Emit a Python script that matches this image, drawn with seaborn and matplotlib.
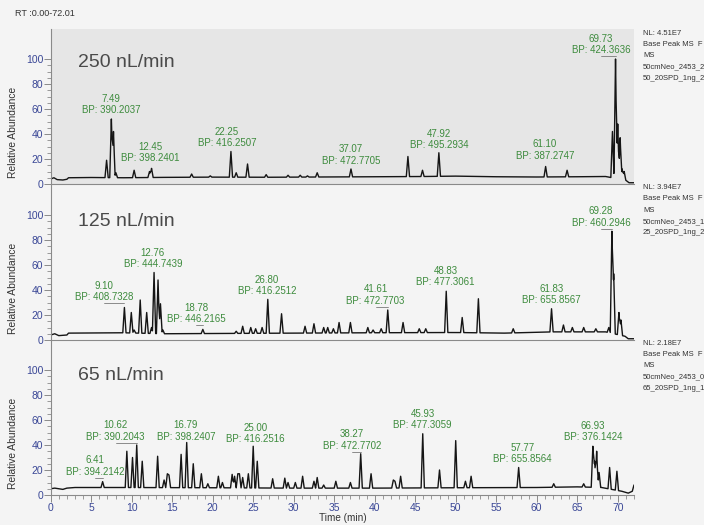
import numpy as np
import pandas as pd
import matplotlib
matplotlib.use("Agg")
import matplotlib.pyplot as plt
import matplotlib.transforms as mtransforms
import seaborn as sns
from matplotlib.ticker import MultipleLocator, FixedLocator

# ---------------------------------------------------------------- data
rt_range_text = "RT :0.00-72.01"
time_max = 72.01

flows = ["250 nL/min", "125 nL/min", "65 nL/min"]
nl_values = ["NL: 4.51E7", "NL: 3.94E7", "NL: 2.18E7"]
scan_line = ["Base Peak MS  F", "Base Peak MS  F", "Base Peak MS  F"]
file_line1 = ["50cmNeo_2453_2", "50cmNeo_2453_1", "50cmNeo_2453_0"]
file_line2 = ["50_20SPD_1ng_2", "25_20SPD_1ng_2", "65_20SPD_1ng_1"]

# ---- 250 nL/min trace (baseline knots + peak apexes)
base250_t = [0.0, 0.4, 0.8, 1.5, 2.0, 2.2, 5.0, 9.0, 14.0, 20.0, 27.0, 33.0,
             40.0, 46.0, 50.0, 55.0, 60.0, 65.0, 68.5, 71.0, 71.4, 72.01]
base250_y = [4.0, 5.0, 3.5, 3.2, 3.8, 5.0, 5.2, 5.0, 5.3, 5.5, 5.4, 5.6,
             5.8, 6.0, 6.3, 5.8, 5.6, 5.8, 6.0, 3.0, 1.0, 1.0]
peak250_t = [6.9, 7.49, 7.75, 8.05, 10.3, 12.2, 12.45, 17.4, 19.7, 22.25, 22.9,
             24.3, 26.6, 29.3, 30.8, 31.7, 32.9, 37.07, 44.1, 45.9, 47.92,
             61.10, 63.75, 69.35, 69.73, 70.0, 70.3, 70.55, 70.8]
peak250_h = [19, 52, 42, 9, 11, 10, 12.5, 8, 6.5, 26, 9,
             16, 7.5, 7, 7, 6.5, 9, 12, 22, 11, 25,
             14, 11, 42, 100, 48, 37, 12, 10]
label250_rt = ["7.49", "12.45", "22.25", "37.07", "47.92", "61.10", "69.73"]
label250_bp = ["390.2037", "398.2401", "416.2507", "472.7705", "495.2934",
               "387.2747", "424.3636"]

# ---- 125 nL/min trace
base125_t = [0.0, 0.5, 1.0, 2.0, 2.2, 8.8, 14.0, 20.0, 30.0, 40.0, 50.0,
             56.0, 62.0, 68.5, 70.9, 71.3, 72.01]
base125_y = [4.0, 5.0, 3.5, 4.0, 5.5, 5.8, 5.0, 5.2, 5.5, 5.8, 6.0,
             5.5, 6.5, 6.5, 3.0, 1.0, 1.0]
peak125_t = [9.10, 9.95, 10.3, 11.05, 11.85, 12.45, 12.76, 13.25, 13.55, 13.85,
             18.78, 22.9, 23.7, 24.7, 25.3, 26.1, 26.80, 28.5, 31.4, 32.5,
             33.7, 34.2, 34.9, 35.6, 37.0, 39.15, 39.8, 40.8, 41.61, 43.5,
             45.5, 46.3, 48.83, 50.8, 52.8, 57.1, 61.83, 63.3, 64.4, 65.8,
             67.3, 68.9, 69.28, 69.5, 70.15, 70.4]
peak125_h = [26, 22, 8, 32, 22, 10, 54, 48, 29, 8,
             8.5, 7, 11, 10, 9, 10, 32.5, 21, 11, 13,
             10, 10, 9, 14, 14, 10, 8, 9, 24, 14,
             9, 9, 39, 18, 33, 9, 25, 12, 10, 10,
             9, 10, 87, 53, 22, 16]
label125_rt = ["9.10", "12.76", "18.78", "26.80", "41.61", "48.83", "61.83", "69.28"]
label125_bp = ["408.7328", "444.7439", "446.2165", "416.2512", "472.7703",
               "477.3061", "655.8567", "460.2946"]

# ---- 65 nL/min trace
base65_t = [0.0, 0.5, 1.5, 2.0, 3.0, 6.0, 9.0, 20.0, 30.0, 40.0, 50.0,
            60.0, 65.0, 68.0, 70.5, 71.3, 71.8, 72.01]
base65_y = [5.0, 5.5, 4.5, 5.5, 6.0, 6.0, 6.0, 5.8, 5.5, 5.5, 5.8,
            6.0, 6.5, 6.0, 3.0, 1.5, 3.0, 8.0]
peak65_t = [6.41, 9.4, 10.1, 10.62, 11.3, 13.2, 14.0, 14.4, 14.6, 16.1,
            16.79, 17.6, 18.6, 19.4, 20.7, 21.2, 22.4, 22.7, 23.1, 23.3,
            23.7, 24.4, 25.00, 25.5, 27.4, 28.9, 29.3, 30.2, 31.1, 32.5,
            32.9, 33.7, 35.2, 37.0, 38.27, 39.55, 42.3, 42.5, 43.2, 45.93,
            48.0, 50.0, 51.2, 51.9, 57.77, 62.1, 65.8, 66.93, 67.15, 67.4,
            67.7, 69.0, 69.9]
peak65_h = [10.7, 35, 30, 40, 27, 31, 12, 17, 16, 32.5,
            42, 25, 17, 9, 15, 10, 16.5, 15, 17, 17,
            14, 17, 39, 27, 13, 13.5, 10, 10, 15, 11,
            14, 8, 11, 10, 33, 17, 12, 11, 15, 49,
            20, 43.5, 11, 15, 22, 9, 9, 39, 27, 35,
            18, 22, 19]
label65_rt = ["6.41", "10.62", "16.79", "25.00", "38.27", "45.93", "57.77", "66.93"]
label65_bp = ["394.2142", "390.2043", "398.2407", "416.2516", "472.7702",
              "477.3059", "655.8564", "376.1424"]

# ---------------------------------------------------------------- style
# label layout: (shift of label centre in minutes, height of label bottom)
label_layout = [
    [(0.0, 55), (-0.1, 16.5), (-0.5, 28.5), (0.0, 14.7), (0.0, 27), (-0.1, 18.7), (-1.8, 103)],
    [(-2.5, 30.6), (-0.15, 57), (-0.8, 12.8), (-0.1, 35), (-1.5, 27.5), (-0.1, 42.6), (0.0, 28), (-1.35, 90)],
    [(-0.9, 14.7), (-2.6, 42.7), (-0.1, 42.7), (0.3, 41), (-1.05, 35.5), (0.0, 52), (0.5, 24.8), (0.0, 42)],
]
title_y = [97, 94.6, 96]
info_top_px = [33.3, 187.5, 343.3]

W, H = 704, 525
FIG_BG = "#f4f4f4"
SEL_BG = "#e6e6e6"
GREEN = "#3d8b3d"
TICK_BLUE = "#3a4796"
SPINE = "#8a8a8a"
YMAX = 124

sns.set_theme(style="white")
plt.rcParams["font.family"] = ["Liberation Sans", "DejaVu Sans"]


def build_trace(bt, by, pt, ph, half_w=0.2):
    bt = np.asarray(bt, float)
    by = np.asarray(by, float)
    pt = np.asarray(pt, float)
    ph = np.asarray(ph, float)
    knots = np.unique(np.concatenate([bt, pt - half_w, pt, pt + half_w]))
    knots = knots[(knots >= bt[0]) & (knots <= bt[-1])]
    y = np.interp(knots, bt, by)
    amp = ph - np.interp(pt, bt, by)
    for t, a in zip(pt, amp):
        y = y + a * np.clip(1 - np.abs(knots - t) / half_w, 0, None)
    return pd.DataFrame({"Time (min)": knots, "Relative Abundance": y})


traces = [
    build_trace(base250_t, base250_y, peak250_t, peak250_h),
    build_trace(base125_t, base125_y, peak125_t, peak125_h),
    build_trace(base65_t, base65_y, peak65_t, peak65_h),
]
labels = [(label250_rt, label250_bp), (label125_rt, label125_bp), (label65_rt, label65_bp)]

fig = plt.figure(figsize=(W / 100, H / 100), dpi=100, facecolor=FIG_BG)

ax_left_px, ax_w_px = 50.7, 583.3
zero_px = [184, 340, 495]
ax_h_px = 155

for i in range(3):
    rect = [ax_left_px / W, 1 - zero_px[i] / H, ax_w_px / W, ax_h_px / H]
    ax = fig.add_axes(rect)
    ax.set_facecolor(SEL_BG if i == 0 else "none")
    sns.lineplot(data=traces[i], x="Time (min)", y="Relative Abundance", ax=ax,
                 color="#151515", lw=1.0, estimator=None, sort=False)
    ax.set_xlim(0, time_max)
    ax.set_ylim(0, YMAX)
    for s in ["top", "right"]:
        ax.spines[s].set_visible(False)
    for s in ["left", "bottom"]:
        ax.spines[s].set_color(SPINE)
        ax.spines[s].set_linewidth(0.8)
    ax.set_yticks([0, 20, 40, 60, 80, 100])
    ax.yaxis.set_minor_locator(FixedLocator([v for v in range(0, 101, 5) if v % 20]))
    ax.set_ylim(0, YMAX)
    ax.tick_params(axis="y", which="major", direction="out", length=4.8, width=0.7,
                   color=SPINE, labelsize=7.5, labelcolor=TICK_BLUE, pad=0.6, left=True)
    ax.tick_params(axis="y", which="minor", direction="out", length=2.6, width=0.6,
                   color=SPINE, left=True)
    ax.set_ylabel("")
    if i < 2:
        ax.set_xlabel("")
        ax.tick_params(axis="x", which="both", bottom=False, labelbottom=False)
    else:
        ax.set_xticks(np.arange(0, 71, 5))
        ax.xaxis.set_minor_locator(MultipleLocator(1))
        ax.tick_params(axis="x", which="major", direction="out", length=4.8, width=0.7,
                       color=SPINE, labelsize=7.5, labelcolor=TICK_BLUE, pad=0.8, bottom=True)
        ax.tick_params(axis="x", which="minor", direction="out", length=2.8, width=0.6,
                       color=SPINE, bottom=True)
        ax.set_xlabel("Time (min)", fontsize=7.2, color="#333333", labelpad=1.5)
        ax.xaxis.set_label_coords(0.5, -0.115)

    ax.text(-0.0646, 41 / YMAX, "Relative Abundance", transform=ax.transAxes,
            rotation=90, ha="center", va="center", fontsize=7.4, color="#333333")
    ax.text(0.047, title_y[i], flows[i],
            transform=mtransforms.blended_transform_factory(ax.transAxes, ax.transData),
            ha="left", va="center", fontsize=14, color="#4a4a4a")

    lrt, lbp = labels[i]
    for (rt, bp), (dx, yb) in zip(zip(lrt, lbp), label_layout[i]):
        t = float(rt)
        ax.text(t + dx, yb, f"{rt}\nBP: {bp}", ha="center", va="bottom",
                fontsize=7, color=GREEN, linespacing=1.15)
        if abs(dx) > 0.5:
            ax.plot([t + dx, t], [yb - 0.8, yb - 0.8], color="#7a7a7a", lw=0.6)

    # info text block at the right
    info = [nl_values[i], scan_line[i], "MS", file_line1[i], file_line2[i]]
    for k, line in enumerate(info):
        ypx = info_top_px[i] + k * 11.3
        fig.text(643 / W, 1 - ypx / H, line, ha="left", va="center",
                 fontsize=5.5, color="#333333")

fig.text(15 / W, 1 - 13 / H, rt_range_text, ha="left", va="center",
         fontsize=6.5, color="#333333")

fig.savefig("out.png", dpi=100, facecolor=FIG_BG)
